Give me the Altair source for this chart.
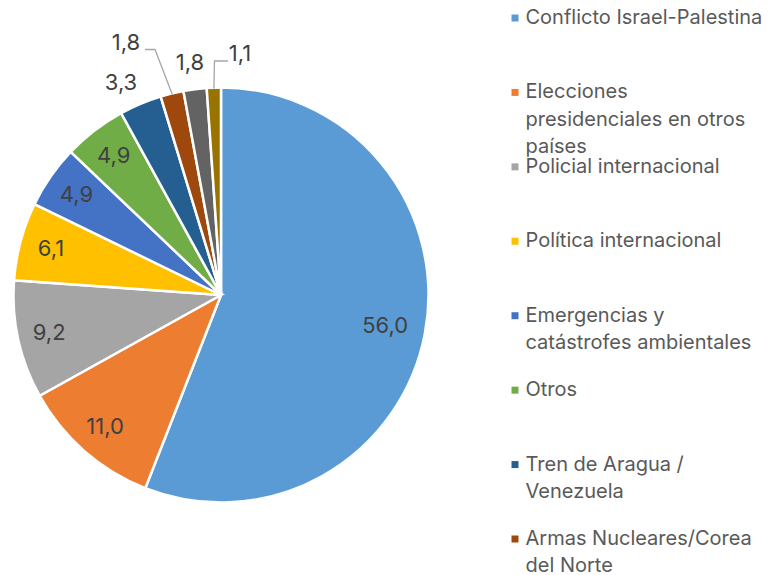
import altair as alt
import pandas as pd
import numpy as np

# ---------------- data ----------------
categories = [
    "Conflicto Israel-Palestina",
    "Elecciones presidenciales en otros países",
    "Policial internacional",
    "Política internacional",
    "Emergencias y catástrofes ambientales",
    "Otros",
    "Tren de Aragua / Venezuela",
    "Armas Nucleares/Corea del Norte",
    "Categoría 9",
    "Categoría 10",
]
values = [56.0, 11.0, 9.2, 6.1, 4.9, 4.9, 3.3, 1.8, 1.8, 1.1]
value_labels = ["56,0", "11,0", "9,2", "6,1", "4,9", "4,9", "3,3", "1,8", "1,8", "1,1"]
legend_lines = [
    ["Conflicto Israel-Palestina"],
    ["Elecciones", "presidenciales en otros", "países"],
    ["Policial internacional"],
    ["Política internacional"],
    ["Emergencias y", "catástrofes ambientales"],
    ["Otros"],
    ["Tren de Aragua /", "Venezuela"],
    ["Armas Nucleares/Corea", "del Norte"],
]
colors = ["#5B9BD5", "#ED7D31", "#A5A5A5", "#FFC000", "#4472C4",
          "#70AD47", "#255E91", "#9E480E", "#636363", "#997300"]

# ---------------- layout ----------------
PIE_W, H, LEG_W = 500, 559, 255
CX, CY, R = 211, 286, 207.5
R_IN = 176
FS_LAB, FS_LEG = 22, 20
# outside labels: offset from pie centre (dx, dy) in px
outside = {6: (-100, -212), 7: (-95, -252), 8: (-31, -232), 9: (19, -241)}
inside_r = {0: 167}

total = sum(values)
cum = np.cumsum(values)
mid = 2 * np.pi * (cum - np.array(values) / 2) / total

rows = []
for i, (c, v, l) in enumerate(zip(categories, values, value_labels)):
    if i in outside:
        lx, ly = CX + outside[i][0], CY + outside[i][1]
    else:
        r = inside_r.get(i, R_IN)
        lx, ly = CX + r * np.sin(mid[i]), CY - r * np.cos(mid[i])
    rows.append(dict(idx=i, cat=c, val=v, lab=l, lx=lx, ly=ly))
df = pd.DataFrame(rows)

# leader lines for the two displaced labels
lines = []
for i in (7, 9):
    ex, ey = CX + (R - 1) * np.sin(mid[i]), CY - (R - 1) * np.cos(mid[i])
    lx, ly = df.loc[i, "lx"], df.loc[i, "ly"]
    if i == 7:
        pts = [(ex, ey), (lx + 29, ly + 6.5), (lx + 19, ly + 6.5)]
    else:
        pts = [(ex, ey), (lx - 25.5, ly + 7), (lx - 12, ly + 7)]
    for k, (px, py) in enumerate(pts):
        lines.append(dict(g=i, k=k, px=px, py=py))
ldf = pd.DataFrame(lines)

color_scale = alt.Scale(domain=categories, range=colors)
xs = alt.Scale(domain=[0, PIE_W], range=[0, PIE_W])
ys = alt.Scale(domain=[0, H], range=[0, H])

base = alt.Chart(df)
arcs = base.mark_arc(stroke="white", strokeWidth=2.5).encode(
    theta=alt.Theta("val:Q", stack=True),
    order=alt.Order("idx:Q"),
    color=alt.Color("cat:N", scale=color_scale, legend=None),
    x=alt.value(CX), y=alt.value(CY),
    radius=alt.value(R),
)
labels = base.mark_text(font="Inter", fontSize=FS_LAB, color="#404040",
                        align="center", baseline="middle").encode(
    x=alt.X("lx:Q", scale=xs, axis=None),
    y=alt.Y("ly:Q", scale=ys, axis=None),
    text="lab:N",
)
leaders = alt.Chart(ldf).mark_line(color="#A6A6A6", strokeWidth=1.3).encode(
    x=alt.X("px:Q", scale=xs, axis=None),
    y=alt.Y("py:Q", scale=ys, axis=None),
    detail="g:N", order="k:Q",
)
pie = alt.layer(arcs, leaders, labels).properties(width=PIE_W, height=H)

# ---------------- legend ----------------
leg_rows = []
for i, ls in enumerate(legend_lines):
    for j, t in enumerate(ls):
        leg_rows.append(dict(idx=i, line=j, cat=categories[i], txt=t,
                             first=(j == 0)))
leg = pd.DataFrame(leg_rows)
ly_scale = alt.Scale(domain=[0, 7], range=[9, 530])
lbase = alt.Chart(leg)
squares = lbase.transform_filter("datum.first").mark_square(size=49, opacity=1).encode(
    x=alt.value(5),
    y=alt.Y("idx:Q", scale=ly_scale, axis=None),
    color=alt.Color("cat:N", scale=color_scale, legend=None),
)
ltext = lbase.transform_calculate(pos="datum.idx + datum.line * 27.3 / 74.43").mark_text(
    font="Inter", fontSize=FS_LEG, color="#595959", align="left", baseline="middle"
).encode(
    x=alt.value(15.5),
    y=alt.Y("pos:Q", scale=ly_scale, axis=None),
    text="txt:N",
)
legend = alt.layer(squares, ltext).properties(width=LEG_W, height=H)

chart = alt.hconcat(pie, legend, spacing=0).properties(
    padding=0, background="white"
).configure_view(stroke=None, strokeWidth=0)

chart.save("out.html", embed_options={"renderer": "svg", "actions": False})
